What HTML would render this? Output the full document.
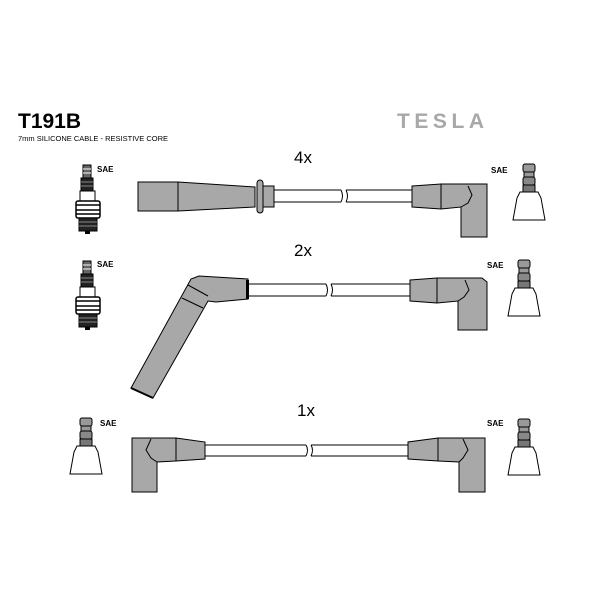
<!DOCTYPE html>
<html><head><meta charset="utf-8"><style>
html,body{margin:0;padding:0;background:#fff;}
svg{display:block;}
</style></head><body>
<svg width="600" height="600" viewBox="0 0 600 600" xmlns="http://www.w3.org/2000/svg" font-family="Liberation Sans, sans-serif">
<defs>
<g id="plug">
  <rect x="83" y="165" width="8" height="13" fill="#666" stroke="#000"/>
  <line x1="83" y1="169" x2="91" y2="169" stroke="#fff"/>
  <line x1="83" y1="173" x2="91" y2="173" stroke="#fff"/>
  <rect x="81" y="178" width="12" height="13" fill="#222" stroke="#000"/>
  <line x1="81" y1="182" x2="93" y2="182" stroke="#888"/>
  <line x1="81" y1="186" x2="93" y2="186" stroke="#888"/>
  <rect x="80" y="191" width="15" height="10" fill="#fff" stroke="#000"/>
  <rect x="76" y="201" width="24" height="17" rx="2" fill="#fff" stroke="#000" stroke-width="1.5"/>
  <line x1="76" y1="205" x2="100" y2="205" stroke="#000" stroke-width="1.5"/>
  <line x1="76" y1="210" x2="100" y2="210" stroke="#000" stroke-width="1.5"/>
  <line x1="76" y1="214" x2="100" y2="214" stroke="#000" stroke-width="1.5"/>
  <rect x="79" y="218" width="18" height="13" fill="#222" stroke="#000"/>
  <line x1="79" y1="222" x2="97" y2="222" stroke="#888"/>
  <line x1="79" y1="226" x2="97" y2="226" stroke="#888"/>
  <rect x="85" y="231" width="5" height="3" fill="#000"/>
</g>
<g id="term">
  <rect x="-6" y="0" width="12" height="8" rx="2" fill="#999" stroke="#000"/>
  <rect x="-5" y="8" width="10" height="5" fill="#999" stroke="#000"/>
  <rect x="-6" y="13" width="12" height="8" rx="2" fill="#888" stroke="#000"/>
  <rect x="-6" y="21" width="12" height="7" fill="#777" stroke="#000"/>
  <path d="M-9,28 L9,28 L12,34 L16,56 L-16,56 L-12,34 Z" fill="#fff" stroke="#000"/>
</g>
</defs>

<text x="18" y="128" font-size="21" font-weight="bold">T191B</text>
<text x="18" y="141" font-size="7.5">7mm SILICONE CABLE - RESISTIVE CORE</text>
<text x="397" y="128" font-size="21" font-weight="bold" fill="#a8a8a8" letter-spacing="3" textLength="90">TESLA</text>

<!-- row 1 -->
<text x="294" y="163" font-size="17">4x</text>
<use href="#plug"/>
<text x="97" y="172" font-size="8" font-weight="bold">SAE</text>
<text x="491" y="173" font-size="8" font-weight="bold">SAE</text>
<use href="#term" x="529" y="164"/>
<path d="M138,182 L178,182 L255,187 L255,207 L178,211 L138,211 Z" fill="#a8a8a8" stroke="#000"/>
<line x1="178" y1="182" x2="178" y2="211" stroke="#000"/>
<rect x="257" y="180" width="6" height="33" rx="3" fill="#a8a8a8" stroke="#000"/>
<rect x="263" y="186" width="11" height="21" fill="#a8a8a8" stroke="#000"/>
<line x1="274" y1="190" x2="341" y2="190" stroke="#000"/>
<line x1="274" y1="202" x2="341" y2="202" stroke="#000"/>
<line x1="346" y1="190" x2="412" y2="190" stroke="#000"/>
<line x1="346" y1="202" x2="412" y2="202" stroke="#000"/>
<path d="M341,190 q3,6 0,12 M346,190 q3,6 0,12" fill="none" stroke="#000"/>
<path d="M412,186 L441,184 L487,184 L487,237 L461,237 L461,207 L441,209 L412,207 Z" fill="#a8a8a8" stroke="#000"/>
<line x1="441" y1="184" x2="441" y2="209" stroke="#000"/>
<path d="M468,186 L472,195 L468,203 L461,207" fill="none" stroke="#000"/>

<!-- row 2 -->
<text x="294" y="256" font-size="17">2x</text>
<use href="#plug" y="96"/>
<text x="97" y="267" font-size="8" font-weight="bold">SAE</text>
<text x="487" y="268" font-size="8" font-weight="bold">SAE</text>
<use href="#term" x="524" y="260"/>
<path d="M131,388 L191,279 L199,276 L248,279 L248,299 L216,302 L208,301 L153,398 Z" fill="#a8a8a8" stroke="#000"/>
<line x1="131" y1="388" x2="153" y2="398" stroke="#000" stroke-width="2"/>
<line x1="188" y1="285" x2="208" y2="296" stroke="#000"/>
<line x1="182" y1="298" x2="203" y2="308" stroke="#000"/>
<rect x="246" y="280" width="3" height="19" fill="#000"/>
<line x1="249" y1="284" x2="326" y2="284" stroke="#000"/>
<line x1="249" y1="296" x2="326" y2="296" stroke="#000"/>
<line x1="331" y1="284" x2="412" y2="284" stroke="#000"/>
<line x1="331" y1="296" x2="412" y2="296" stroke="#000"/>
<path d="M326,284 q3,6 0,12 M331,284 q3,6 0,12" fill="none" stroke="#000"/>
<path d="M410,280 L437,278 L482,278 L487,282 L487,330 L458,330 L458,301 L437,303 L410,301 Z" fill="#a8a8a8" stroke="#000"/>
<line x1="437" y1="278" x2="437" y2="303" stroke="#000"/>
<path d="M465,280 L469,290 L464,297 L458,301" fill="none" stroke="#000"/>

<!-- row 3 -->
<text x="297" y="416" font-size="17">1x</text>
<use href="#term" x="86" y="418"/>
<text x="100" y="426" font-size="8" font-weight="bold">SAE</text>
<text x="487" y="426" font-size="8" font-weight="bold">SAE</text>
<use href="#term" x="524" y="419"/>
<path d="M132,438 L176,438 L205,442 L205,459 L176,461 L157,462 L157,492 L132,492 Z" fill="#a8a8a8" stroke="#000"/>
<line x1="176" y1="438" x2="176" y2="461" stroke="#000"/>
<path d="M151,439 L146,450 L151,458 L157,462" fill="none" stroke="#000"/>
<line x1="205" y1="445" x2="306" y2="445" stroke="#000"/>
<line x1="205" y1="456" x2="306" y2="456" stroke="#000"/>
<line x1="311" y1="445" x2="408" y2="445" stroke="#000"/>
<line x1="311" y1="456" x2="408" y2="456" stroke="#000"/>
<path d="M306,445 q3,5 0,11 M311,445 q3,5 0,11" fill="none" stroke="#000"/>
<path d="M485,438 L438,438 L408,442 L408,459 L438,461 L459,462 L459,492 L485,492 Z" fill="#a8a8a8" stroke="#000"/>
<line x1="438" y1="438" x2="438" y2="461" stroke="#000"/>
<path d="M463,439 L468,450 L463,458 L459,462" fill="none" stroke="#000"/>
</svg>
</body></html>
